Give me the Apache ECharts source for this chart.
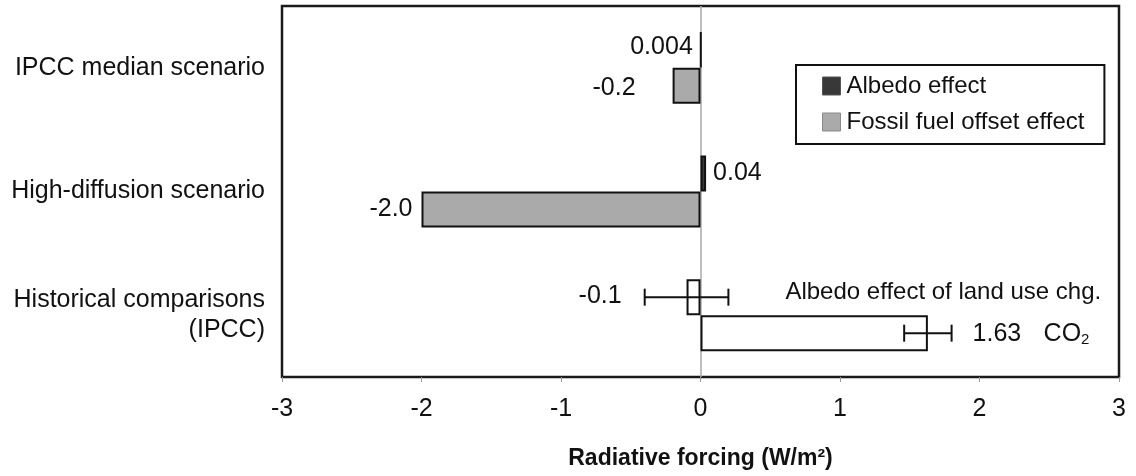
<!DOCTYPE html>
<html>
<head>
<meta charset="utf-8">
<script src="https://cdn.jsdelivr.net/npm/echarts@6/dist/echarts.min.js"></script>
<style>
  html, body { margin: 0; padding: 0; background: #ffffff; }
  #chart { width: 1136px; height: 476px; }
</style>
</head>
<body>
<div id="chart"></div>
<script>
// Radiative forcing of the two scenarios and the historical comparisons (W/m²)
const categories = ['IPCC median scenario', 'High-diffusion scenario', 'Historical comparisons\n(IPCC)'];
const albedoEffect = [0.004, 0.04];          // scenario albedo effect
const fossilOffset = [-0.2, -2.0];           // scenario fossil fuel offset effect
const landUseAlbedo = -0.1;                  // albedo effect of land use change
const landUseAlbedoRange = [-0.4, 0.2];
const co2Forcing = 1.63;                     // CO2
const co2Range = [1.46, 1.80];
const xTicks = [-3, -2, -1, 0, 1, 2, 3];

const FONT = "'Liberation Sans', Arial, Helvetica, sans-serif";
const INK = '#111111';
const BAR_W = 36;

// keep the written precision of each value (e.g. -2.0, 0.004)
function fmt(v) {
  const d = (String(v).split('.')[1] || '').length;
  return v.toFixed(Math.max(1, d));
}

const labelBase = { show: true, fontFamily: FONT, fontSize: 25, color: INK, formatter: p => fmt(p.value) };
const openBar = { color: '#ffffff', borderColor: INK, borderWidth: 2 };

const albedoData = [
  { value: albedoEffect[0], label: Object.assign({}, labelBase, { position: 'left', distance: 7, offset: [0, -3] }) },
  { value: albedoEffect[1], label: Object.assign({}, labelBase, { position: 'right', distance: 7 }) },
  { value: landUseAlbedo, itemStyle: openBar }
];
const fossilData = [
  { value: fossilOffset[0], label: Object.assign({}, labelBase, { position: 'left', distance: 37, offset: [0, 2] }) },
  { value: fossilOffset[1], label: Object.assign({}, labelBase, { position: 'left', distance: 9 }) },
  { value: co2Forcing, itemStyle: openBar }
];

// horizontal error bar with its value label and annotations
function errorBar(name, range, catIndex, slot, texts) {
  return {
    name: name,
    type: 'custom',
    silent: true,
    data: [[range[0], range[1], catIndex]],
    renderItem: function (params, api) {
      const lo = api.coord([api.value(0), api.value(2)]);
      const hi = api.coord([api.value(1), api.value(2)]);
      const y = lo[1] + slot * BAR_W / 2;
      const cap = 8.5;
      const ls = { stroke: INK, lineWidth: 2 };
      const children = [
        { type: 'line', shape: { x1: lo[0], y1: y, x2: hi[0], y2: y }, style: ls },
        { type: 'line', shape: { x1: lo[0], y1: y - cap, x2: lo[0], y2: y + cap }, style: ls },
        { type: 'line', shape: { x1: hi[0], y1: y - cap, x2: hi[0], y2: y + cap }, style: ls }
      ];
      texts.forEach(function (t) {
        const x = (t.from === 'lo' ? lo[0] : hi[0]) + t.dx;
        children.push({
          type: 'text',
          x: x, y: y + t.dy,
          style: Object.assign({
            text: t.text, fill: INK, fontFamily: FONT, fontSize: t.size || 25,
            align: t.align, verticalAlign: 'middle'
          }, t.rich ? { rich: t.rich } : {})
        });
      });
      return { type: 'group', children: children };
    },
    z: 5
  };
}

const chart = echarts.init(document.getElementById('chart'), null, { renderer: 'canvas' });

chart.setOption({
  animation: false,
  backgroundColor: '#ffffff',
  textStyle: { fontFamily: FONT, color: INK },
  grid: {
    show: true, left: 282, right: 17, top: 6, bottom: 99,
    borderColor: '#1a1a1a', borderWidth: 2.5, backgroundColor: 'transparent'
  },
  legend: {
    data: [
      { name: 'Albedo effect', itemStyle: { borderColor: '#555555', borderWidth: 1 } },
      { name: 'Fossil fuel offset effect', itemStyle: { borderColor: '#8a8a8a', borderWidth: 1 } }
    ],
    orient: 'vertical',
    left: 796, top: 65,
    padding: [9, 20, 10, 26],
    itemGap: 12,
    itemWidth: 18, itemHeight: 18,
    icon: 'rect',
    borderColor: INK, borderWidth: 2,
    backgroundColor: '#ffffff',
    textStyle: { fontFamily: FONT, fontSize: 24, color: INK, padding: [0, 0, 0, 1] }
  },
  xAxis: {
    type: 'value',
    min: xTicks[0], max: xTicks[xTicks.length - 1], interval: 1,
    name: 'Radiative forcing (W/m²)',
    nameLocation: 'middle', nameGap: 70,
    nameTextStyle: { fontFamily: FONT, fontSize: 23, fontWeight: 'bold', color: INK },
    axisLine: { show: false },
    axisTick: { show: true, length: 5, lineStyle: { color: '#999999', width: 1 } },
    axisLabel: { fontFamily: FONT, fontSize: 25, color: INK, margin: 20 },
    splitLine: { show: false }
  },
  yAxis: {
    type: 'category',
    data: categories,
    inverse: true,
    axisLine: { show: false },
    axisTick: { show: false },
    axisLabel: { fontFamily: FONT, fontSize: 25, color: INK, margin: 17, lineHeight: 30, align: 'right' }
  },
  series: [
    {
      name: 'Albedo effect',
      type: 'bar',
      barWidth: BAR_W,
      barGap: '0%',
      data: albedoData,
      itemStyle: { color: '#383838', borderColor: INK, borderWidth: 2 },
      z: 3
    },
    {
      name: 'Fossil fuel offset effect',
      type: 'bar',
      barWidth: BAR_W,
      barGap: '0%',
      data: fossilData,
      itemStyle: { color: '#aaaaaa', borderColor: INK, borderWidth: 2 },
      z: 3,
      markLine: {
        silent: true,
        symbol: 'none',
        label: { show: false },
        lineStyle: { color: '#aaaaaa', width: 1.5, type: 'solid' },
        data: [{ xAxis: 0 }],
        z: 1
      }
    },
    errorBar('land-use albedo range', landUseAlbedoRange, 2, -1, [
      { from: 'lo', dx: -23, dy: -1, align: 'right', text: fmt(landUseAlbedo) },
      { from: 'hi', dx: 57, dy: -5, align: 'left', size: 24, text: 'Albedo effect of land use chg.' }
    ]),
    errorBar('CO2 range', co2Range, 2, 1, [
      { from: 'hi', dx: 21, dy: 1, align: 'left', text: fmt(co2Forcing) },
      { from: 'hi', dx: 92, dy: 1, align: 'left', text: '{a|CO}{b|2}',
        rich: { a: { fontFamily: FONT, fontSize: 25, fill: INK }, b: { fontFamily: FONT, fontSize: 15, fill: INK, padding: [12, 0, 0, 0] } } }
    ])
  ]
});
</script>
</body>
</html>
